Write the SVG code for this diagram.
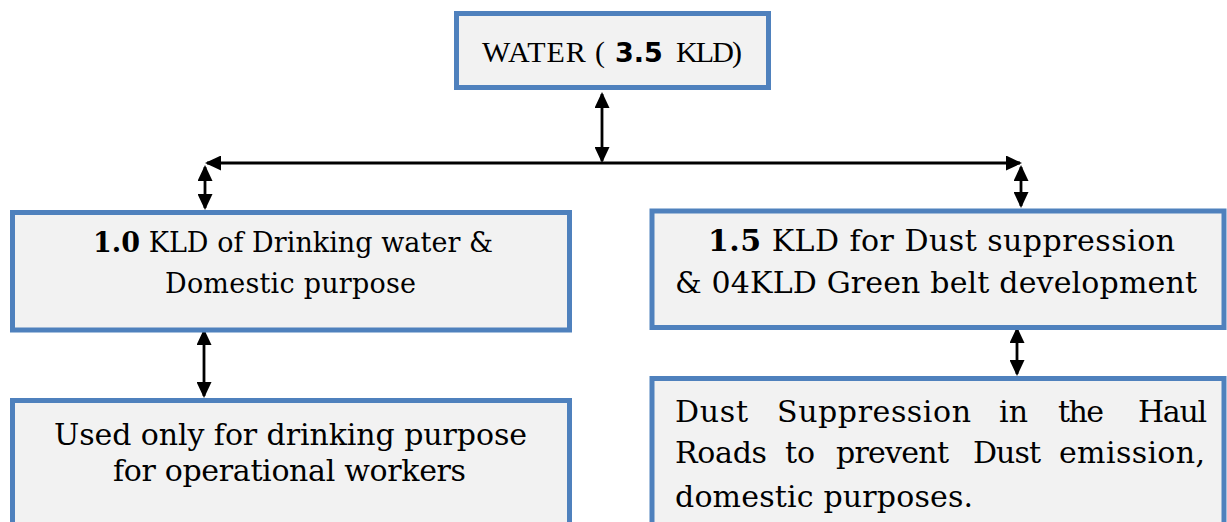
<svg xmlns="http://www.w3.org/2000/svg" width="1227" height="522" viewBox="0 0 1227 522">
<style>
.box{fill:#F2F2F2;stroke:#4F81BD;stroke-width:5}
.t{font-family:"DejaVu Serif","Liberation Serif",serif;fill:#000}
.w{font-family:"Liberation Serif","Times New Roman",serif;fill:#000}
.n{font-family:"DejaVu Sans","Liberation Sans",sans-serif;font-weight:bold}
.c{stroke:#000;stroke-width:2.8;fill:none;marker-start:url(#ah);marker-end:url(#ah)}
</style>
<defs>
<marker id="ah" viewBox="0 0 16 15" refX="14" refY="7.5" markerWidth="16" markerHeight="15" markerUnits="userSpaceOnUse" orient="auto-start-reverse">
<path d="M0,0 L16,7.5 L0,15 z" fill="#000"/>
</marker>
</defs>
<rect width="1227" height="522" fill="#fff"/>
<g id="connectors">
<line class="c" x1="602" y1="94" x2="602" y2="161"/>
<line class="c" x1="207" y1="163" x2="1020" y2="163"/>
<line class="c" x1="205" y1="167" x2="205" y2="208"/>
<line class="c" x1="1021" y1="167" x2="1021" y2="206"/>
<line class="c" x1="204" y1="331" x2="204" y2="396"/>
<line class="c" x1="1017" y1="329" x2="1017" y2="374"/>
</g>
<g id="water">
<rect class="box" x="456.5" y="13.5" width="312" height="74"/>
<text class="w" y="62" font-size="30"><tspan x="482" textLength="123" lengthAdjust="spacing">WATER (</tspan><tspan x="615" class="n" font-size="27">3.5</tspan><tspan x="676" textLength="66" lengthAdjust="spacing">KLD)</tspan></text>
</g>
<g id="drinking">
<rect class="box" x="12.5" y="212.5" width="557" height="117.5"/>
<text class="t" font-size="27" x="93" y="252" textLength="400" lengthAdjust="spacing"><tspan font-weight="bold">1.0</tspan> KLD of Drinking water &amp;</text>
<text class="t" font-size="27" x="165" y="293" textLength="251" lengthAdjust="spacing">Domestic purpose</text>
</g>
<g id="dust">
<rect class="box" x="652" y="211" width="572" height="116.5"/>
<text class="t" font-size="30" x="708" y="251" textLength="467" lengthAdjust="spacing"><tspan font-weight="bold">1.5</tspan> KLD for Dust suppression</text>
<text class="t" font-size="30" x="675" y="293" textLength="522" lengthAdjust="spacing">&amp; 04KLD Green belt development</text>
</g>
<g id="used">
<rect class="box" x="12.5" y="400.5" width="557" height="130"/>
<text class="t" font-size="30" x="54" y="445" textLength="473" lengthAdjust="spacing">Used only for drinking purpose</text>
<text class="t" font-size="30" x="113" y="481" textLength="353" lengthAdjust="spacing">for operational workers</text>
</g>
<g id="haul">
<rect class="box" x="652" y="378.5" width="572" height="160"/>
<text class="t" font-size="30">
<tspan x="675" y="422" textLength="73" lengthAdjust="spacing">Dust</tspan>
<tspan x="777" y="422" textLength="194" lengthAdjust="spacing">Suppression</tspan>
<tspan x="999" y="422" textLength="29" lengthAdjust="spacing">in</tspan>
<tspan x="1058" y="422" textLength="46" lengthAdjust="spacing">the</tspan>
<tspan x="1138" y="422" textLength="69" lengthAdjust="spacing">Haul</tspan>
<tspan x="675" y="463" textLength="92" lengthAdjust="spacing">Roads</tspan>
<tspan x="785" y="463" textLength="30" lengthAdjust="spacing">to</tspan>
<tspan x="836" y="463" textLength="113" lengthAdjust="spacing">prevent</tspan>
<tspan x="973" y="463" textLength="68" lengthAdjust="spacing">Dust</tspan>
<tspan x="1059" y="463" textLength="146" lengthAdjust="spacing">emission,</tspan>
<tspan x="675" y="507" textLength="298" lengthAdjust="spacing">domestic purposes.</tspan>
</text>
</g>
</svg>
